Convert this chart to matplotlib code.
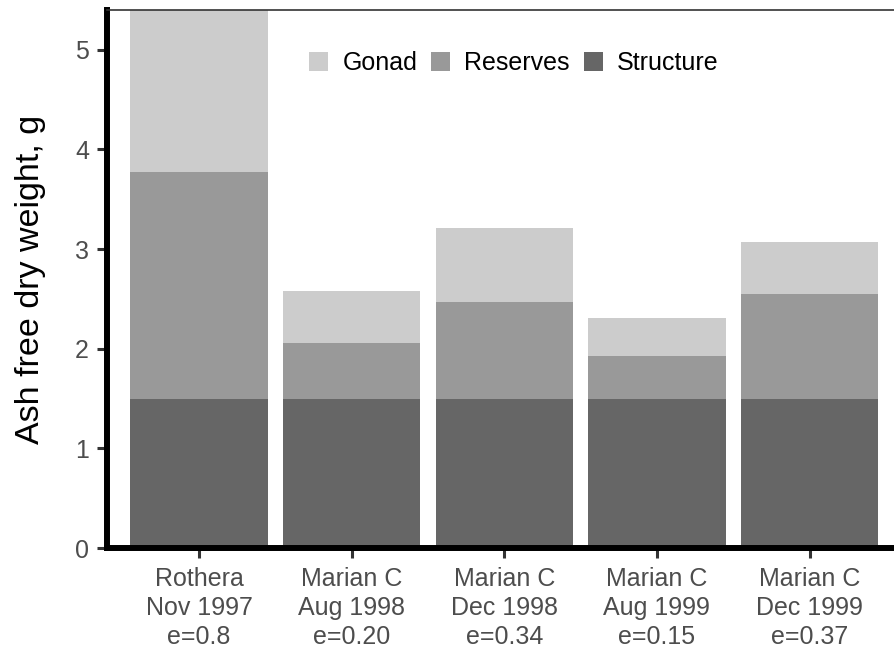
#%% libs
import matplotlib.pyplot as plt
import numpy as np

plt.rcParams['font.family'] = ['Liberation Sans', 'DejaVu Sans']

#%% data
sites = ['Rothera\nNov 1997\ne=0.8',
         'Marian C\nAug 1998\ne=0.20',
         'Marian C\nDec 1998\ne=0.34',
         'Marian C\nAug 1999\ne=0.15',
         'Marian C\nDec 1999\ne=0.37']
structure = [1.50, 1.50, 1.50, 1.50, 1.50]
reserves = [2.27, 0.56, 0.97, 0.43, 1.05]
gonad = [1.80, 0.52, 0.74, 0.38, 0.52]

plot_colors = {'Gonad': '#cccccc',
               'Reserves': '#999999',
               'Structure': '#666666'}

#%% plot
fig = plt.figure(figsize=(8.95, 6.47), dpi=100)
ax = fig.add_axes([107 / 895, 1 - 548 / 647, 1 - 107 / 895, (548 - 10) / 647])

x = np.arange(len(sites))
width = 0.9
b_struct = ax.bar(x, structure, width, color=plot_colors['Structure'], label='Structure')
b_res = ax.bar(x, reserves, width, bottom=structure, color=plot_colors['Reserves'], label='Reserves')
b_gon = ax.bar(x, gonad, width, bottom=np.add(structure, reserves),
               color=plot_colors['Gonad'], label='Gonad')

ax.set_xlim(-0.603, 4.56)
ax.set_ylim(0, 5.40)
ax.set_yticks([0, 1, 2, 3, 4, 5])
ax.set_xticks(x)
ax.set_xticklabels(sites, fontsize=18, color='#4d4d4d', linespacing=1.24)
ax.tick_params(axis='y', labelsize=18, labelcolor='#4d4d4d')
ax.tick_params(length=7, width=2.2, color='#333333', pad=6)
ax.tick_params(axis='x', pad=7)

for side in ['left', 'bottom']:
    ax.spines[side].set_linewidth(4.3)
    ax.spines[side].set_color('black')
ax.spines['top'].set_linewidth(1.2)
ax.spines['top'].set_color('#333333')
ax.spines['right'].set_visible(False)

fig.text(31 / 895, 1 - 279 / 647, 'Ash free dry weight, g', rotation=90,
         ha='center', va='center', fontsize=24.5, color='black')

ax.legend(handles=[b_gon, b_res, b_struct], loc='center',
          bbox_to_anchor=(514 / 895, 1 - 63 / 647), bbox_transform=fig.transFigure,
          ncol=3, frameon=False, fontsize=18,
          handlelength=0.76, handleheight=0.76, handletextpad=0.56,
          columnspacing=0.56, borderpad=0)

plt.savefig('out.png', dpi=100)
